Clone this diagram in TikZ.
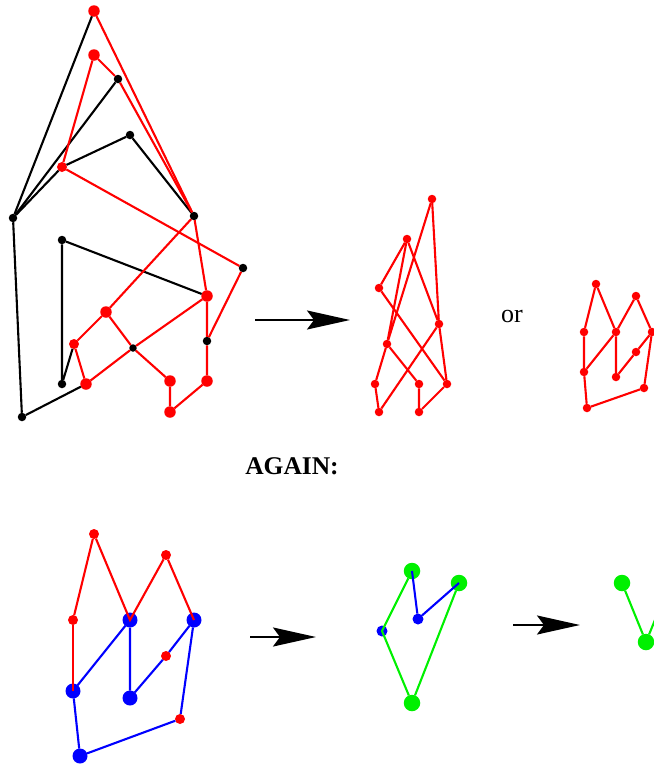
\documentclass[tikz,border=0pt]{standalone}
\usepackage{fontspec}
\setmainfont{Liberation Serif}
\usetikzlibrary{arrows.meta}
\definecolor{gr}{RGB}{0,240,0}
\definecolor{bl}{RGB}{0,0,255}
\definecolor{rd}{RGB}{255,0,0}
\tikzset{
  dot/.style={circle,inner sep=0pt,outer sep=0pt},
  bk/.style={dot,fill=black,minimum size=8.5pt},
  bks/.style={dot,fill=black,minimum size=7.5pt},
  rb/.style={dot,fill=rd,minimum size=11.5pt},
  rm/.style={dot,fill=rd,minimum size=10pt},
  rs/.style={dot,fill=rd,minimum size=8.5pt},
  bb/.style={dot,fill=bl,minimum size=15pt},
  bm/.style={dot,fill=bl,minimum size=11pt},
  gb/.style={dot,fill=gr,minimum size=16.5pt},
  ln/.style={line width=2.1pt},
  blk/.style={ln,black},
  red/.style={ln,rd},
  blu/.style={ln,bl},
  grn/.style={ln,gr},
  arr/.style={line width=2.2pt,-{Stealth[length=43pt,width=19pt,inset=7pt]}},
  lbl/.style={inner sep=0pt,font=\fontsize{26}{30}\selectfont}
}
\begin{document}
\begin{tikzpicture}[x=1pt,y=-1pt]
\useasboundingbox (0,0) rectangle (654,764);
\clip (0,0) rectangle (654,764);
% ---------- first graph ----------
\node[rb] (A) at (94,11) {};
\node[rb] (B) at (94,55) {};
\node[bk] (C) at (118,79) {};
\node[bk] (D) at (130,135) {};
\node[rm] (E) at (62,167) {};
\node[bk] (F) at (13,218) {};
\node[bk] (G) at (194,216) {};
\node[bk] (I) at (62,240) {};
\node[bk] (H) at (243,268) {};
\node[rb] (J) at (207,296) {};
\node[rb] (K) at (106,312) {};
\node[rm] (L) at (74,344) {};
\node[bks] (M) at (133,348) {};
\node[bk] (N) at (207,341) {};
\node[bk] (O) at (62,384) {};
\node[rb] (P) at (86,384) {};
\node[rb] (Q) at (170,381) {};
\node[rb] (R) at (207,381) {};
\node[rb] (S) at (170,412) {};
\node[bk] (T) at (22,417) {};
\draw[blk] (F) -- (A);
\draw[blk] (F) -- (C);
\draw[blk] (F) -- (E) -- (D) -- (G);
\draw[blk] (F) -- (T) -- (P);
\draw[blk] (J) -- (I) -- (O) -- (L);
\draw[red] (A) -- (G);
\draw[red] (B) -- (C) -- (G);
\draw[red] (B) -- (E) -- (H) -- (N);
\draw[red] (G) -- (J) -- (N) -- (R) -- (S) -- (Q) -- (M) -- (K) -- (L) -- (P) -- (M) -- (J);
\draw[red] (G) -- (K);
% arrow 1
\coordinate (a1s) at (255,320);
\coordinate (a1e) at (350,320);
\draw[arr] (a1s) -- (a1e);
% ---------- second graph ----------
\node[rs] (a) at (432,199) {};
\node[rs] (b) at (407,239) {};
\node[rs] (c) at (379,288) {};
\node[rs] (d) at (439,324) {};
\node[rs] (e) at (387,344) {};
\node[rs] (f) at (375,384) {};
\node[rs] (g) at (419,384) {};
\node[rs] (h) at (447,384) {};
\node[rs] (i) at (379,412) {};
\node[rs] (j) at (419,412) {};
\draw[red] (a) -- (d) -- (h) -- (j) -- (g) -- (e) -- (f) -- (i) -- (d) -- (b) -- (c) -- (h);
\draw[red] (a) -- (e) -- (b);
\node[lbl] (or) at (512,316) {or};
% ---------- third graph ----------
\node[rs] (p1) at (596,284) {};
\node[rs] (p2) at (636,296) {};
\node[rs] (p3) at (584,332) {};
\node[rs] (p4) at (616,332) {};
\node[rs] (p5) at (652,332) {};
\node[rs] (p6) at (636,352) {};
\node[rs] (p7) at (584,372) {};
\node[rs] (p8) at (616,377) {};
\node[rs] (p9) at (644,388) {};
\node[rs] (p10) at (587,408) {};
\draw[red] (p3) -- (p1) -- (p4) -- (p2) -- (p5) -- (p9) -- (p10) -- (p7) -- (p3);
\draw[red] (p7) -- (p4) -- (p8) -- (p6) -- (p5);
% ---------- AGAIN ----------
\node[lbl,font=\fontsize{25.5}{30}\selectfont\bfseries] (again) at (292,466) {AGAIN:};
% ---------- bottom-left graph ----------
\node[rm] (r1) at (94,534) {};
\node[rm] (r2) at (166,555) {};
\node[rm] (r3) at (73,620) {};
\node[bb] (b1) at (130,620) {};
\node[bb] (b2) at (194,620) {};
\node[rm] (r4) at (166,656) {};
\node[bb] (b3) at (73,691) {};
\node[bb] (b4) at (130,698) {};
\node[rm] (r5) at (180,719) {};
\node[bb] (b5) at (80,756) {};
\draw[blu] (b3) -- (b1) -- (b4) -- (r4) -- (b2) -- (r5) -- (b5) -- (b3);
\draw[red] (r3) -- (b3.center);
\draw[red] (r3) -- (r1) -- (b1.center) -- (r2) -- (b2.center);
% arrow 2
\coordinate (a2s) at (250,637);
\coordinate (a2e) at (316,637);
\draw[arr] (a2s) -- (a2e);
% ---------- green graph ----------
\node[gb] (g1) at (412,571) {};
\node[gb] (g2) at (459,583) {};
\node[bm] (bA) at (382,631) {};
\node[bm] (bB) at (418,619) {};
\node[gb] (g3) at (412,703) {};
\draw[grn] (g1) -- (bA.center) -- (g3) -- (g2);
\draw[blu] (g1.center) -- (bB) -- (g2.center);
% arrow 3
\coordinate (a3s) at (513,625);
\coordinate (a3e) at (580,625);
\draw[arr] (a3s) -- (a3e);
% ---------- last graph ----------
\node[gb] (g4) at (622,583) {};
\node[gb] (g5) at (646,642) {};
\coordinate (g6) at (670,583);
\draw[grn] (g4) -- (g5) -- (g6);
\end{tikzpicture}
\end{document}
